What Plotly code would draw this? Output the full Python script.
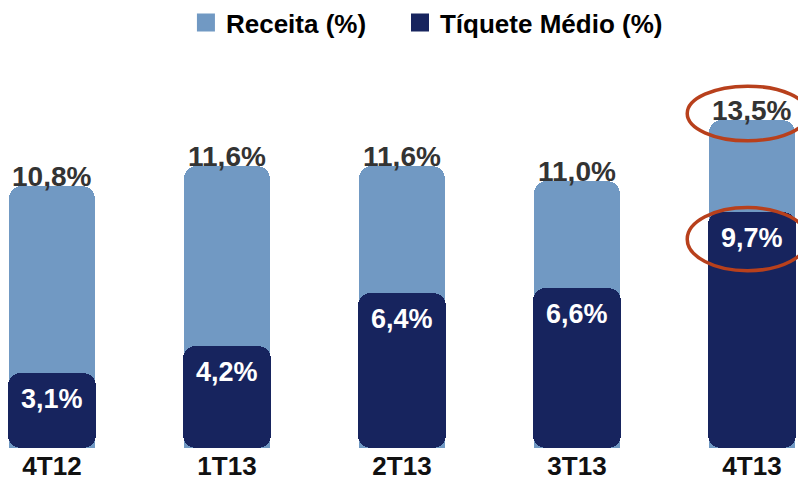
import plotly.graph_objects as go

categories = ["4T12", "1T13", "2T13", "3T13", "4T13"]
receita = [10.8, 11.6, 11.6, 11.0, 13.5]
tiquete = [3.1, 4.2, 6.4, 6.6, 9.7]
series_names = ["Receita (%)", "Tíquete Médio (%)"]

LIGHT = "#7199c3"
DARK = "#17245e"
FONT = "Liberation Sans, Arial, sans-serif"

def fmt(v):
    return f"{v:.1f}%".replace(".", ",")

x = list(range(len(categories)))
fig = go.Figure()

noline = dict(width=0)
fig.add_trace(go.Bar(
    x=x, y=receita, name=series_names[0],
    marker=dict(color=LIGHT, cornerradius=13, line=noline),
    width=0.49, showlegend=False,
))
# dark bars: two overlapping pieces so both ends are rounded
fig.add_trace(go.Bar(
    x=x, y=[-v * 0.7 for v in tiquete], base=[v * 0.7 for v in tiquete],
    marker=dict(color=DARK, cornerradius=13, line=noline), width=0.5, showlegend=False,
    hoverinfo="skip",
))
fig.add_trace(go.Bar(
    x=x, y=[v * 0.7 for v in tiquete], base=[v * 0.3 for v in tiquete],
    name=series_names[1], marker=dict(color=DARK, cornerradius=13, line=noline),
    width=0.5, showlegend=False,
))
# legend entries
fig.add_trace(go.Scatter(x=[None], y=[None], mode="markers",
                         name=series_names[0] + "\u00a0" * 4,
                         marker=dict(symbol="square", size=16, color=LIGHT,
                                     line=dict(color=LIGHT, width=2))))
fig.add_trace(go.Scatter(x=[None], y=[None], mode="markers", name=series_names[1],
                         marker=dict(symbol="square", size=16, color=DARK,
                                     line=dict(color=DARK, width=2))))

for i, v in enumerate(receita):
    fig.add_annotation(x=i, y=v, text=fmt(v), showarrow=False, yanchor="bottom",
                       yshift=-8, font=dict(family=FONT, size=28, color="#333333", weight="bold"))
for i, v in enumerate(tiquete):
    fig.add_annotation(x=i, y=v, text=fmt(v), showarrow=False, yanchor="top",
                       yshift=-9, font=dict(family=FONT, size=27, color="white", weight="bold"))

# red ellipses around last category's labels
last = len(categories) - 1
red = "#b8401c"
fig.add_shape(type="circle", xref="x", yref="y", x0=last - 0.37, x1=last + 0.32,
              y0=receita[last] - 0.85, y1=receita[last] + 1.4,
              line=dict(color=red, width=3.5))
fig.add_shape(type="circle", xref="x", yref="y", x0=last - 0.37, x1=last + 0.32,
              y0=tiquete[last] - 2.4, y1=tiquete[last] + 0.2,
              line=dict(color=red, width=3.5))

fig.update_layout(
    width=798, height=477,
    margin=dict(l=0, r=0, t=40, b=29, autoexpand=False),
    barmode="overlay",
    bargap=0,
    plot_bgcolor="white", paper_bgcolor="white",
    showlegend=True,
    legend=dict(orientation="h", x=0.535, xanchor="center", y=0.985, yanchor="bottom",
                font=dict(family=FONT, size=26, color="black", weight="bold"),
                itemsizing="trace", traceorder="normal"),
    xaxis=dict(tickmode="array", tickvals=x, ticktext=categories,
               range=[-0.297, 4.263], showgrid=False, zeroline=False, showline=False,
               tickfont=dict(family=FONT, size=26, color="#111111", weight="bold"),
               ticklabelstandoff=0),
    yaxis=dict(range=[0, 16.8], visible=False),
)

fig.write_html("out.html", config={"displayModeBar": False},
               post_script="document.body.style.margin='0';")
